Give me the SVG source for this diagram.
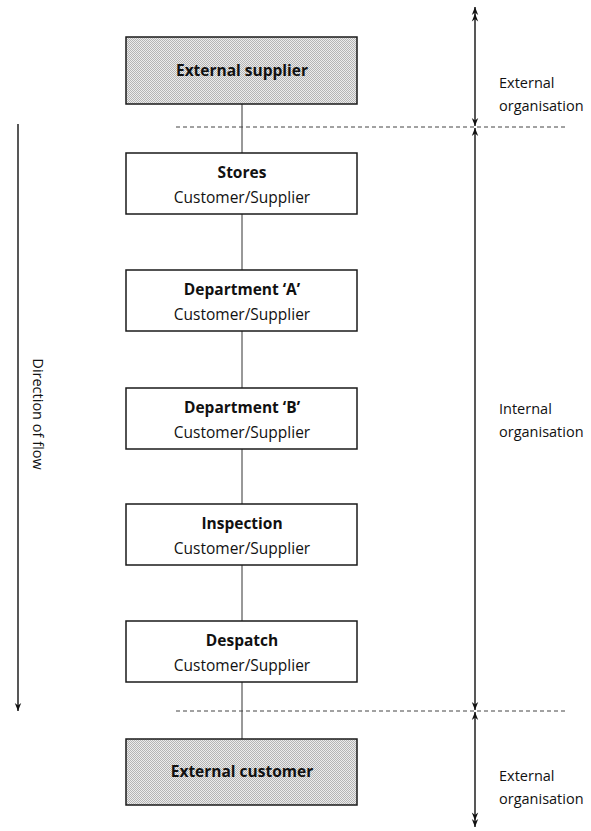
<svg xmlns="http://www.w3.org/2000/svg" width="591" height="831" viewBox="0 0 591 831">
  <style>
    .box { fill: #ffffff; stroke: #1a1a1a; stroke-width: 1.5; }
    .ext { fill: url(#stipple); stroke: #1a1a1a; stroke-width: 1.5; }
    .title { font-family: "Open Sans", "Noto Sans", sans-serif; font-size: 15.5px; font-weight: bold; fill: #111; text-anchor: middle; }
    .sub { font-family: "Open Sans", "Noto Sans", sans-serif; font-size: 15.5px; fill: #111; text-anchor: middle; }
    .lbl { font-family: "Open Sans", "Noto Sans", sans-serif; font-size: 14.5px; fill: #111; }
    .link { stroke: #333; stroke-width: 1; fill: none; }
    .dash { stroke: #444; stroke-width: 1; stroke-dasharray: 4 3; fill: none; }
    .arr { stroke: #111; stroke-width: 1.4; fill: none; }
  </style>
  <defs>
    <!-- fine halftone dot fill for the external parties -->
    <pattern id="stipple" width="2" height="2" patternUnits="userSpaceOnUse">
      <rect width="2" height="2" fill="#ececec"/>
      <rect width="1" height="1" fill="#b4b4b4"/>
      <rect x="1" y="1" width="1" height="1" fill="#b4b4b4"/>
    </pattern>
    <marker id="head" viewBox="0 0 10 10" refX="10" refY="5" markerWidth="9" markerHeight="8" markerUnits="userSpaceOnUse" orient="auto-start-reverse">
      <path d="M0,1 L10,5 L0,9 L3,5 Z" fill="#111"/>
    </marker>
    <marker id="head2" viewBox="0 0 18 10" refX="18" refY="5" markerWidth="16" markerHeight="8" markerUnits="userSpaceOnUse" orient="auto-start-reverse">
      <path d="M0,1 L10,5 L0,9 L3,5 Z M8,1 L18,5 L8,9 L11,5 Z" fill="#111"/>
    </marker>
  </defs>

  <!-- connectors -->
  <g id="connectors">
    <line class="link" x1="242" y1="104" x2="242" y2="153"/>
    <line class="link" x1="242" y1="214" x2="242" y2="270"/>
    <line class="link" x1="242" y1="331" x2="242" y2="388"/>
    <line class="link" x1="242" y1="449" x2="242" y2="504"/>
    <line class="link" x1="242" y1="565" x2="242" y2="621"/>
    <line class="link" x1="242" y1="682" x2="242" y2="739"/>
  </g>

  <!-- organisation boundaries -->
  <g id="boundaries">
    <line class="dash" x1="176" y1="127" x2="567" y2="127"/>
    <line class="dash" x1="176" y1="711" x2="567" y2="711"/>
  </g>

  <!-- flow direction -->
  <g id="flow">
    <line class="arr" x1="18" y1="124" x2="18" y2="711" marker-end="url(#head)"/>
    <text class="lbl" transform="translate(33,414) rotate(90)" text-anchor="middle">Direction of flow</text>
  </g>

  <!-- span arrows on the right -->
  <g id="spans">
    <line class="arr" x1="475" y1="7" x2="475" y2="126" marker-start="url(#head2)" marker-end="url(#head)"/>
    <line class="arr" x1="475" y1="128" x2="475" y2="710" marker-start="url(#head)" marker-end="url(#head)"/>
    <line class="arr" x1="475" y1="712" x2="475" y2="827" marker-start="url(#head)" marker-end="url(#head2)"/>
    <text class="lbl" x="499" y="88">External</text>
    <text class="lbl" x="499" y="111">organisation</text>
    <text class="lbl" x="499" y="414">Internal</text>
    <text class="lbl" x="499" y="437">organisation</text>
    <text class="lbl" x="499" y="781">External</text>
    <text class="lbl" x="499" y="804">organisation</text>
  </g>

  <g id="external-supplier">
    <rect class="ext" x="126" y="37" width="231" height="67"/>
    <text class="title" x="242" y="76">External supplier</text>
  </g>
  <g id="stores">
    <rect class="box" x="126" y="153" width="231" height="61"/>
    <text class="title" x="242" y="178">Stores</text>
    <text class="sub" x="242" y="203">Customer/Supplier</text>
  </g>
  <g id="department-a">
    <rect class="box" x="126" y="270" width="231" height="61"/>
    <text class="title" x="242" y="295">Department ‘A’</text>
    <text class="sub" x="242" y="320">Customer/Supplier</text>
  </g>
  <g id="department-b">
    <rect class="box" x="126" y="388" width="231" height="61"/>
    <text class="title" x="242" y="413">Department ‘B’</text>
    <text class="sub" x="242" y="438">Customer/Supplier</text>
  </g>
  <g id="inspection">
    <rect class="box" x="126" y="504" width="231" height="61"/>
    <text class="title" x="242" y="529">Inspection</text>
    <text class="sub" x="242" y="554">Customer/Supplier</text>
  </g>
  <g id="despatch">
    <rect class="box" x="126" y="621" width="231" height="61"/>
    <text class="title" x="242" y="646">Despatch</text>
    <text class="sub" x="242" y="671">Customer/Supplier</text>
  </g>
  <g id="external-customer">
    <rect class="ext" x="126" y="739" width="231" height="66"/>
    <text class="title" x="242" y="777">External customer</text>
  </g>
</svg>
